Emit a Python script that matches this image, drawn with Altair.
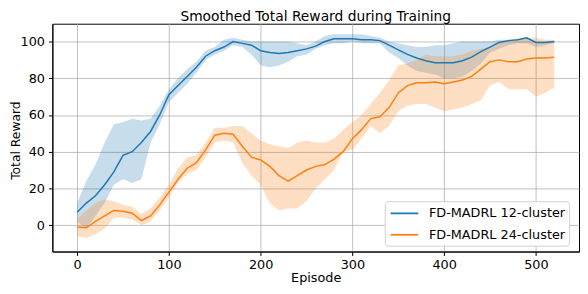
import altair as alt
import pandas as pd

episodes = list(range(0, 521, 10))

s12_name = "FD-MADRL 12-cluster"
s24_name = "FD-MADRL 24-cluster"

s12_mean = [7, 12, 16, 22, 29, 38, 40, 45, 51, 60,
            71, 76, 81, 86, 92, 95, 97, 100, 99, 98,
            95, 94, 93.5, 94, 95, 96, 97.5, 100, 101.5, 101.5,
            101.5, 101, 101, 100.5, 98, 95.5, 93, 91, 89.5, 88.5,
            88.5, 88.5, 89.5, 91.5, 94.5, 97, 99.5, 100.5, 101, 102,
            99.5, 99.5, 100]
s12_lo = [2, -2, 5, 12, 22, 25, 23, 25, 45, 55,
          67, 72, 77, 83, 90, 93, 95, 98, 97, 93,
          87, 86, 87, 89, 92, 93, 96, 98, 99, 99,
          100, 99, 99, 99, 94, 91, 87, 84, 83, 82,
          80, 80, 81, 84, 88, 94, 96, 98, 99, 99,
          97, 98, 99]
s12_hi = [12, 24, 33, 45, 55, 56, 58, 57, 58, 65,
          74, 80, 85, 89, 95, 97, 101, 102, 101, 100,
          100, 100, 100, 100, 99, 98, 100, 103, 104, 104,
          104, 104, 103, 102, 100, 99, 98, 97, 97, 98,
          98, 99, 100, 100, 100, 100, 101, 101, 101, 102,
          100, 100, 100]

s24_mean = [-1, -1.5, 2, 5, 8, 7.5, 6.5, 2.5, 5, 11,
            18, 25, 31, 34, 41, 49, 50, 49.5, 43, 37,
            35.5, 32, 27, 24, 27, 30, 32, 33, 36, 40,
            47, 52, 58, 59, 64, 72, 76, 77.5, 77.5, 78,
            77, 78, 79, 81, 85, 89, 90, 89, 89, 90.5,
            91, 91, 91.5]
s24_lo = [-6, -7, -5, -2, 4, 4, 3, 0, 2, 8,
          15, 23, 28, 30, 37, 45, 46, 45, 34, 27,
          22, 12, 8, 9, 9, 13, 20, 25, 30, 40,
          41, 47, 54, 50, 54, 62, 65, 66, 66, 64,
          62, 63, 64, 66, 68, 76, 78, 74, 74, 74,
          70, 72, 75]
s24_hi = [3, 8, 12, 14, 13, 11, 10, 6, 9, 15,
          22, 31, 37, 38, 45, 53, 53, 54, 54, 50,
          46, 44, 43, 42, 45, 46, 45, 45, 47, 52,
          56, 60, 66, 72, 79, 87, 88, 90, 93, 92,
          92, 92, 93, 95, 96, 97, 100, 101, 101, 102,
          102, 101, 101]

rows = []
for name, m, lo, hi in [(s12_name, s12_mean, s12_lo, s12_hi),
                        (s24_name, s24_mean, s24_lo, s24_hi)]:
    for e, a, b, c in zip(episodes, m, lo, hi):
        rows.append({"episode": e, "series": name, "band": name + " band",
                     "mean": a, "lo": b, "hi": c})
df = pd.DataFrame(rows)

domain = [s12_name, s24_name]
band_domain = [s12_name + " band", s24_name + " band"]
colors = ["#1f77b4", "#ff7f0e"]

xscale = alt.Scale(domain=[-27, 547], nice=False, zero=False)
yscale = alt.Scale(domain=[-14.4, 109.7], nice=False, zero=False)

xaxis = alt.Axis(title="Episode", values=[0, 100, 200, 300, 400, 500], grid=True,
                 labelPadding=3.5, titleY=30, titleBaseline="alphabetic")
yaxis = alt.Axis(title="Total Reward", values=[0, 20, 40, 60, 80, 100], grid=True,
                 labelPadding=4, titleX=-37, titleY=118, titleBaseline="middle",
                 titleAngle=-90, titleFontSize=12.5)

base = alt.Chart(df)

band = base.mark_area(opacity=0.25).encode(
    x=alt.X("episode:Q", scale=xscale, axis=xaxis),
    y=alt.Y("lo:Q", scale=yscale, axis=yaxis),
    y2="hi:Q",
    fill=alt.Fill("band:N", scale=alt.Scale(domain=band_domain, range=colors), legend=None),
)

line = base.mark_line(strokeWidth=1.5).encode(
    x=alt.X("episode:Q", scale=xscale),
    y=alt.Y("mean:Q", scale=yscale),
    stroke=alt.Stroke(
        "series:N",
        scale=alt.Scale(domain=domain, range=colors),
        legend=alt.Legend(
            title=None, orient="none", legendX=337, legendY=180,
            symbolType="M-0.84,0L2.89,0", symbolSize=225,
            symbolStrokeWidth=1.8, labelFontSize=13,
            labelFont="DejaVu Sans", labelColor="black", labelLimit=300,
            fillColor="white", strokeColor="#d0d0d0", padding=3.8,
            cornerRadius=3, rowPadding=5.7, labelOffset=24,
        ),
    ),
)

chart = alt.layer(band, line).properties(
    width=534, height=231,
    title=alt.Title("Smoothed Total Reward during Training", fontSize=14,
                    font="DejaVu Sans", fontWeight="normal", color="black",
                    offset=2.5, baseline="alphabetic", dy=14),
    padding={"left": 45, "top": 14, "right": 1, "bottom": 33},
    autosize=alt.AutoSizeParams(type="none"),
).configure_view(
    stroke="black", strokeWidth=1
).configure_axis(
    labelFont="DejaVu Sans", titleFont="DejaVu Sans", labelFontSize=13,
    titleFontSize=13, titleFontWeight="normal", labelColor="black", titleColor="black",
    domainColor="black", tickColor="black", tickSize=4, gridColor="#b0b0b0",
    gridWidth=0.8,
)

chart.save("out.html", embed_options={"renderer": "svg", "actions": False})
